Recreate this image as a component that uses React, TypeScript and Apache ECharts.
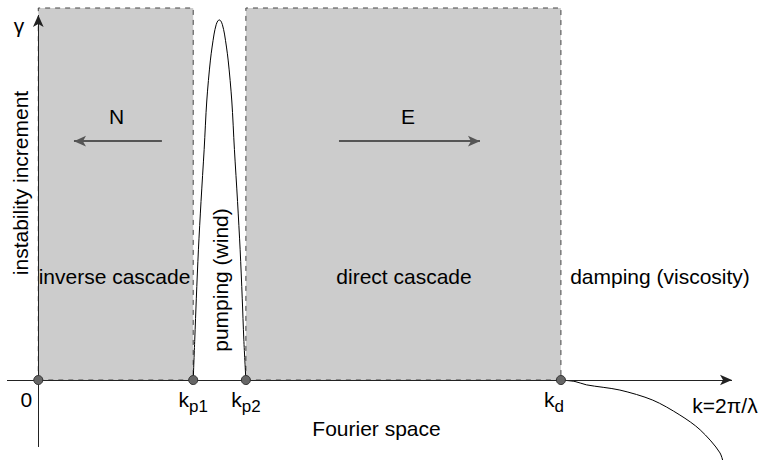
import React, { useEffect, useRef } from 'react';
import * as echarts from 'echarts';

const FONT = '"Liberation Sans", Arial, Helvetica, sans-serif';

// Special wavenumbers on the k axis (0, k_p1, k_p2, k_d)
const markerK = [0, 2.97, 3.98, 10.02];
const markerMain = ['0', 'k', 'k', 'k'];
const markerSub = ['', 'p1', 'p2', 'd'];

// Shaded cascade ranges [kStart, kEnd] (gamma from 0 to 1)
const cascadeRanges = [
  [0, 2.97],
  [3.98, 10.02],
];
const cascadeTop = 1;

// Pumping (wind) instability increment curve
const pumpK = [2.97, 3.0, 3.03, 3.07, 3.12, 3.18, 3.23, 3.3, 3.37, 3.41, 3.44, 3.47, 3.5, 3.53, 3.57, 3.64, 3.71, 3.76, 3.82, 3.87, 3.91, 3.94, 3.98];
const pumpGamma = [0, 0.11, 0.22, 0.35, 0.48, 0.62, 0.75, 0.86, 0.93, 0.955, 0.965, 0.968, 0.965, 0.955, 0.93, 0.86, 0.75, 0.62, 0.48, 0.35, 0.22, 0.11, 0];

// Damping (viscosity) curve beyond k_d
const dampK = [10.02, 10.29, 10.51, 11.15, 11.78, 12.3, 12.69, 13.07, 13.16];
const dampGamma = [0, -0.004, -0.013, -0.027, -0.054, -0.094, -0.134, -0.196, -0.242];

// Axes (with arrow heads) and flux arrows, in data coordinates
const axisLines = [
  [[-0.6, 0], [13.3, 0]],
  [[0, -0.18], [0, 0.981]],
];
const fluxArrows = [
  [[2.37, 0.642], [0.684, 0.642]],
  [[5.765, 0.642], [8.468, 0.642]],
];

const texts = [
  { text: 'γ', x: 19, y: 25, rot: 0 },
  { text: 'instability increment', x: 20, y: 183, rot: 90 },
  { text: 'N', x: 116.5, y: 116, rot: 0 },
  { text: 'E', x: 408, y: 116, rot: 0 },
  { text: 'inverse cascade', x: 114.5, y: 276, rot: 0 },
  { text: 'pumping (wind)', x: 220, y: 280, rot: 90 },
  { text: 'direct cascade', x: 404, y: 276, rot: 0 },
  { text: 'damping (viscosity)', x: 660, y: 276, rot: 0 },
  { text: 'Fourier space', x: 376.5, y: 428, rot: 0 },
  { text: 'k=2π/λ', x: 725, y: 405, rot: 0 },
];

const labelOffsets = [[-12, 0], [0, 0], [0, 0], [-7, 0]];

export default function App() {
  const ref = useRef<HTMLDivElement>(null);
  useEffect(() => {
    const chart = echarts.init(ref.current as HTMLDivElement, null, { renderer: 'svg' });
    const option: any = {
      animation: false,
      backgroundColor: '#ffffff',
      grid: { left: 7, right: 29, top: 8, bottom: 0 },
      xAxis: { type: 'value', min: -0.6, max: 13.3, show: false },
      yAxis: { type: 'value', min: -0.215, max: 1, show: false },
      series: [
        {
          type: 'line',
          name: 'cascades',
          data: [],
          z: 1,
          markArea: {
            silent: true,
            itemStyle: { color: '#cccccc', borderColor: '#444444', borderWidth: 1, borderType: [5, 5] },
            label: { show: false },
            data: cascadeRanges.map((r) => [
              { coord: [r[0], 0] },
              { coord: [r[1], cascadeTop] },
            ]),
          },
        },
        {
          type: 'line',
          name: 'pumping',
          data: pumpK.map((k, i) => [k, pumpGamma[i]]),
          showSymbol: false,
          smooth: 0.3,
          lineStyle: { color: '#000', width: 1 },
          z: 3,
          silent: true,
        },
        {
          type: 'line',
          name: 'damping',
          data: dampK.map((k, i) => [k, dampGamma[i]]),
          showSymbol: false,
          smooth: 0.3,
          lineStyle: { color: '#000', width: 1 },
          z: 3,
          silent: true,
        },
        {
          type: 'line',
          name: 'axes',
          data: [],
          z: 4,
          markLine: {
            silent: true,
            symbol: ['none', 'arrow'],
            symbolSize: [8, 12],
            label: { show: false },
            lineStyle: { color: '#222', width: 1, type: 'solid' },
            data: axisLines.map((l) => [{ coord: l[0] }, { coord: l[1] }]),
          },
        },
        {
          type: 'line',
          name: 'flux',
          data: [],
          z: 4,
          markLine: {
            silent: true,
            symbol: ['none', 'arrow'],
            symbolSize: [8, 12],
            label: { show: false },
            lineStyle: { color: '#555', width: 2, type: 'solid' },
            data: fluxArrows.map((l) => [{ coord: l[0] }, { coord: l[1] }]),
          },
        },
        {
          type: 'scatter',
          name: 'markers',
          z: 5,
          silent: true,
          symbolSize: 9,
          itemStyle: { color: '#666', borderColor: '#333', borderWidth: 1, opacity: 1 },
          data: markerK.map((k, i) => ({
            value: [k, 0],
            label: {
              show: true,
              position: 'bottom',
              distance: 4,
              offset: labelOffsets[i],
              formatter: markerSub[i] ? `{k|${markerMain[i]}}{s|${markerSub[i]}}` : `{k|${markerMain[i]}}`,
            },
          })),
          label: {
            color: '#000',
            fontFamily: FONT,
            rich: {
              k: { fontSize: 21, lineHeight: 22, verticalAlign: 'top', fontFamily: FONT, color: '#000' },
              s: { fontSize: 17, lineHeight: 17, verticalAlign: 'top', padding: [9, 0, 0, 0], fontFamily: FONT, color: '#000' },
            },
          },
        },
      ],
      graphic: texts.map((t) => ({
        type: 'text',
        x: t.x,
        y: t.y,
        rotation: (t.rot * Math.PI) / 180,
        silent: true,
        z: 10,
        style: {
          text: t.text,
          fontSize: 21,
          fontFamily: FONT,
          fill: '#000',
          align: 'center',
          verticalAlign: 'middle',
        },
      })),
    };
    chart.setOption(option);
    return () => chart.dispose();
  }, []);
  return (
    <div
      ref={ref}
      style={{ position: 'fixed', left: 0, top: 0, width: 761, height: 460, background: '#fff' }}
    />
  );
}
